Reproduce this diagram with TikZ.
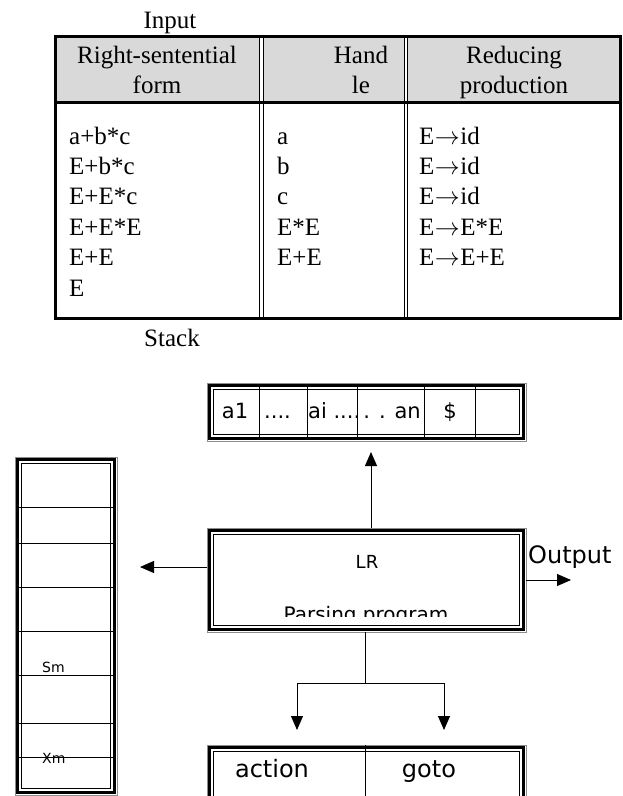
\documentclass[tikz,border=0pt]{standalone}
\usepackage{fontspec}
\setmainfont{Liberation Serif}
\newfontfamily\dejavu{DejaVu Sans}
\usetikzlibrary{arrows.meta,calc}
\definecolor{hdrgray}{HTML}{D9D9D9}
\definecolor{rimgray}{HTML}{8C8C8C}

% thick-thin border inside a frame node
\newcommand{\rimframe}[1]{%
  \draw[line width=2.6pt] ([shift={(2.5,2.5)}]#1.north west) rectangle ([shift={(-2.5,-2.5)}]#1.south east);
  \draw[line width=0.7pt] ([shift={(6.5,6.5)}]#1.north west) rectangle ([shift={(-6.5,-6.5)}]#1.south east);}
\newcommand{\prodto}{\kern0.5pt$\to$\kern0.5pt}

\begin{document}
\begin{tikzpicture}[
    x=1pt, y=-1pt,
    serif/.style={font=\fontsize{25}{30}\selectfont, inner sep=0pt},
    sans/.style={font=\dejavu\fontsize{#1}{#1}\selectfont, inner sep=0pt},
    sans/.default=24,
    frame/.style={draw=rimgray, line width=0.6pt, inner sep=0pt, outer sep=0pt, anchor=north west},
    arr/.style={-{Triangle[length=14pt,width=12pt]}, line width=1pt},
    rule/.style={line width=0.9pt},
]
\useasboundingbox (0,0) rectangle (622,796);
\clip (0,0) rectangle (622,796);

% --- Table of reductions ---
\node[serif, anchor=base] (input) at (170,28) {Input};
\fill[hdrgray] (55,37) rectangle (259.3,101);
\fill[hdrgray] (263.3,37) rectangle (404.3,101);
\fill[hdrgray] (407.7,37) rectangle (620,101);
\draw[line width=3pt] (55,36) rectangle (620,318.5);
\draw[line width=3.5pt] (55,102.5) -- (620,102.5);
\foreach \cx in {259.3,263.3,404.3,407.7}
    \draw[line width=1pt] (\cx,36) -- (\cx,318.5);

\node[serif, anchor=base] (hrsf) at (157,63) {Right-sentential};
\node[serif, anchor=base] (hform) at (157,93) {form};
\node[serif, anchor=base] (hhand) at (361,63) {Hand};
\node[serif, anchor=base] (hle) at (361,93) {le};
\node[serif, anchor=base] (hred) at (514,63) {Reducing};
\node[serif, anchor=base] (hprod) at (514,93) {production};

\foreach \f/\h/\p [count=\i from 0] in {a+b*c/a/E\prodto id, E+b*c/b/E\prodto id, E+E*c/c/E\prodto id,
        E+E*E/E*E/E\prodto E*E, E+E/E+E/E\prodto E+E} {
    \node[serif, anchor=base west] (rsf\i) at (69,144+30.4*\i) {\f};
    \node[serif, anchor=base west] (hdl\i) at (277,144+30.4*\i) {\h};
    \node[serif, anchor=base west] (prd\i) at (419,144+30.4*\i) {\p};
}
\node[serif, anchor=base west] (rsf5) at (69,296) {E};
\node[serif, anchor=base] (stacklbl) at (172,346) {Stack};

% --- Input tape ---
\node[frame, minimum width=319, minimum height=58] (tape) at (207,383) {};
\rimframe{tape}
\foreach \cx in {259,307,357,424,475}
    \draw[rule] (\cx,385) -- (\cx,439);
\node[sans=21, anchor=base] (a1) at (235,418) {a1};
\node[sans=21, anchor=base west] (dots1) at (264,418) {....};
\node[sans=21, anchor=base west] (ai) at (308,418) {ai ....};
\node[sans=21, anchor=base east] (an) at (421,418) {. . an};
\node[sans=21, anchor=base] (dollar) at (450,418) {\$};

% --- Stack ---
\node[frame, minimum width=102, minimum height=338] (stack) at (15,457) {};
\rimframe{stack}
\foreach \ly in {507,543,587,631,675,723,757}
    \draw[rule] (17,\ly) -- (115,\ly);
\node[sans=14, anchor=base west] (sm) at (42,672) {Sm};
\node[sans=14, anchor=base west] (xm) at (42,763) {Xm};

% --- LR parsing program ---
\node[frame, minimum width=319, minimum height=104] (lr) at (207,528) {};
\rimframe{lr}
\node[sans=18, anchor=base] (lrtxt) at (367,568) {LR};
\begin{scope}
    \clip (212,590) rectangle (520,616);
    \node[sans=20, anchor=base] (prog) at (366,621) {Parsing program};
\end{scope}
\node[sans=24, anchor=base west] (output) at (528,563) {Output};

% --- action / goto table ---
\node[frame, minimum width=319, minimum height=70] (acttbl) at (207,745) {};
\rimframe{acttbl}
\draw[rule] (365,745) -- (365,815);
\node[sans=24, anchor=base] (action) at (272,777) {action};
\node[sans=24, anchor=base] (goto) at (429,777) {goto};

% --- connectors ---
\coordinate (uptip) at (371,452);
\coordinate (stacktip) at (140,567);
\coordinate (outtip) at (571,580);
\coordinate (fork) at (365,683);
\coordinate (acttip) at (297,730);
\coordinate (gototip) at (444,730);
\draw[arr] (lr.north -| uptip) -- (uptip);
\draw[arr] (lr.west |- stacktip) -- (stacktip);
\draw[arr] (lr.east) -- (outtip);
\draw[rule] (lr.south -| fork) -- (fork);
\draw[arr] (fork) -| (acttip);
\draw[arr] (fork) -| (gototip);

\end{tikzpicture}
\end{document}
